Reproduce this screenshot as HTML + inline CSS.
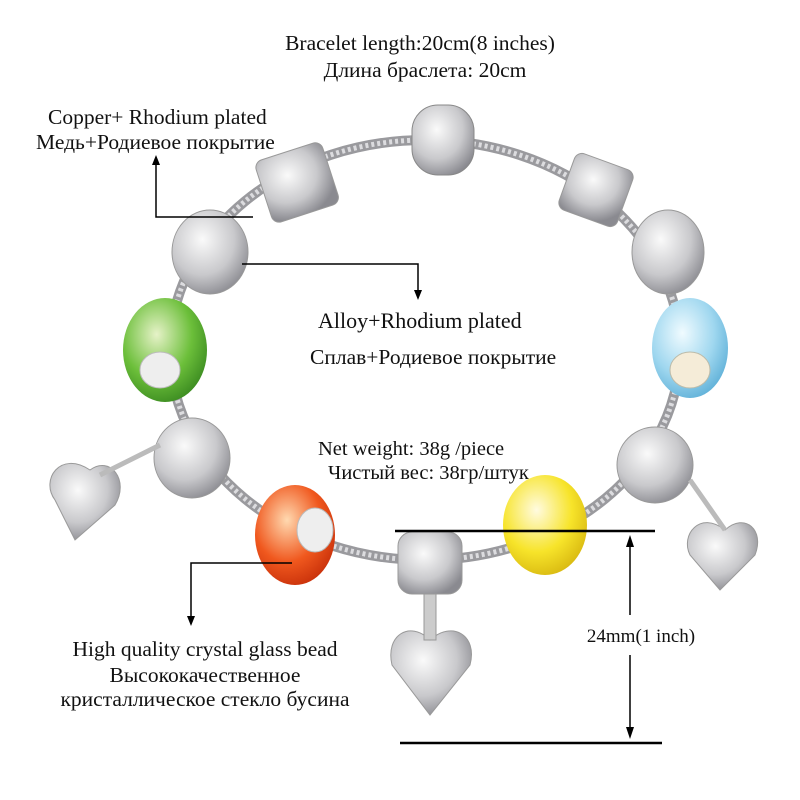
<!DOCTYPE html>
<html><head><meta charset="utf-8"><style>
html,body{margin:0;padding:0;background:#fff;}
svg{display:block;}
text{font-family:"Liberation Serif",serif;fill:#111;}
</style></head><body>
<svg width="800" height="800" viewBox="0 0 800 800">
<defs>
<radialGradient id="sil" cx="40%" cy="35%" r="70%"><stop offset="0" stop-color="#fafafa"/><stop offset="0.6" stop-color="#c9c9cc"/><stop offset="1" stop-color="#8a8a90"/></radialGradient>
<radialGradient id="grn" cx="40%" cy="35%" r="70%"><stop offset="0" stop-color="#e6f2c8"/><stop offset="0.6" stop-color="#6cbf3a"/><stop offset="1" stop-color="#3a8a20"/></radialGradient>
<radialGradient id="blu" cx="40%" cy="35%" r="70%"><stop offset="0" stop-color="#f0fbff"/><stop offset="0.6" stop-color="#9fd7ef"/><stop offset="1" stop-color="#5fb0d8"/></radialGradient>
<radialGradient id="org" cx="40%" cy="35%" r="70%"><stop offset="0" stop-color="#ffd9b0"/><stop offset="0.6" stop-color="#f0581e"/><stop offset="1" stop-color="#c8300a"/></radialGradient>
<radialGradient id="yel" cx="40%" cy="35%" r="70%"><stop offset="0" stop-color="#fffbe0"/><stop offset="0.6" stop-color="#f7e42a"/><stop offset="1" stop-color="#d8b810"/></radialGradient>
</defs>
<ellipse cx="425" cy="350" rx="255" ry="210" fill="none" stroke="#9a9a9e" stroke-width="10"/>
<ellipse cx="425" cy="350" rx="255" ry="210" fill="none" stroke="#dcdcdf" stroke-width="5" stroke-dasharray="3 3"/>
<rect x="412" y="105" width="62" height="70" rx="26" fill="url(#sil)" stroke="#888"/>
<rect x="262" y="150" width="70" height="65" rx="8" fill="url(#sil)" stroke="#999" transform="rotate(-18 297 182)"/>
<rect x="565" y="160" width="62" height="60" rx="8" fill="url(#sil)" stroke="#999" transform="rotate(20 596 190)"/>
<ellipse cx="210" cy="252" rx="38" ry="42" fill="url(#sil)" stroke="#999"/>
<ellipse cx="668" cy="252" rx="36" ry="42" fill="url(#sil)" stroke="#999"/>
<ellipse cx="192" cy="458" rx="38" ry="40" fill="url(#sil)" stroke="#999"/>
<ellipse cx="655" cy="465" rx="38" ry="38" fill="url(#sil)" stroke="#999"/>
<rect x="398" y="532" width="64" height="62" rx="14" fill="url(#sil)" stroke="#999"/>
<ellipse cx="165" cy="350" rx="42" ry="52" fill="url(#grn)"/>
<ellipse cx="160" cy="370" rx="20" ry="18" fill="#eee" stroke="#bbb"/>
<ellipse cx="690" cy="348" rx="38" ry="50" fill="url(#blu)"/>
<ellipse cx="690" cy="370" rx="20" ry="18" fill="#f5ecd8" stroke="#bba"/>
<ellipse cx="295" cy="535" rx="40" ry="50" fill="url(#org)"/>
<ellipse cx="315" cy="530" rx="18" ry="22" fill="#eee" stroke="#bbb"/>
<ellipse cx="545" cy="525" rx="42" ry="50" fill="url(#yel)"/>
<g fill="url(#sil)" stroke="#999">
<path d="M90 470 C60 450 40 480 55 500 L75 540 L115 505 C130 480 110 455 90 470Z"/>
<path d="M725 530 C700 510 680 535 690 555 L720 590 L755 555 C765 530 745 512 725 530Z"/>
<path d="M430 640 C410 620 385 635 392 665 L430 715 L470 665 C478 635 452 620 430 640Z"/>
</g>
<rect x="424" y="594" width="12" height="46" fill="#ccc" stroke="#999"/>
<line x1="100" y1="475" x2="160" y2="445" stroke="#bbb" stroke-width="5"/>
<line x1="725" y1="530" x2="690" y2="480" stroke="#bbb" stroke-width="5"/>
<text x="420" y="50" font-size="21.5" text-anchor="middle">Bracelet length:20cm(8 inches)</text>
<text x="425" y="77" font-size="21.5" text-anchor="middle">Длина браслета: 20cm</text>
<text x="48" y="124" font-size="21.5">Copper+ Rhodium plated</text>
<text x="36" y="149" font-size="21.5">Медь+Родиевое покрытие</text>
<text x="318" y="328" font-size="22">Alloy+Rhodium plated</text>
<text x="310" y="364" font-size="21.5">Сплав+Родиевое покрытие</text>
<text x="318" y="455" font-size="20.5">Net weight:  38g /piece</text>
<text x="328" y="479" font-size="20.5">Чистый вес: 38гр/штук</text>
<text x="205" y="656" font-size="21.5" text-anchor="middle">High quality crystal glass bead</text>
<text x="205" y="682" font-size="21.5" text-anchor="middle">Высококачественное</text>
<text x="205" y="706" font-size="21.5" text-anchor="middle">кристаллическое стекло бусина</text>
<text x="641" y="642" font-size="19" text-anchor="middle">24mm(1 inch)</text>
<g stroke="#000" stroke-width="1.5" fill="none">
<polyline points="253,217 156,217 156,162"/>
<polyline points="242,264 418,264 418,292"/>
<polyline points="292,563 191,563 191,618"/>
<line x1="395" y1="531" x2="655" y2="531" stroke-width="2.5"/>
<line x1="400" y1="743" x2="662" y2="743" stroke-width="2.5"/>
<line x1="630" y1="545" x2="630" y2="615"/>
<line x1="630" y1="655" x2="630" y2="728"/>
</g>
<g fill="#000">
<polygon points="156,155 152,165 160,165"/>
<polygon points="418,300 414,290 422,290"/>
<polygon points="191,626 187,616 195,616"/>
<polygon points="630,535 626,547 634,547"/>
<polygon points="630,739 626,727 634,727"/>
</g>
</svg>
</body></html>
